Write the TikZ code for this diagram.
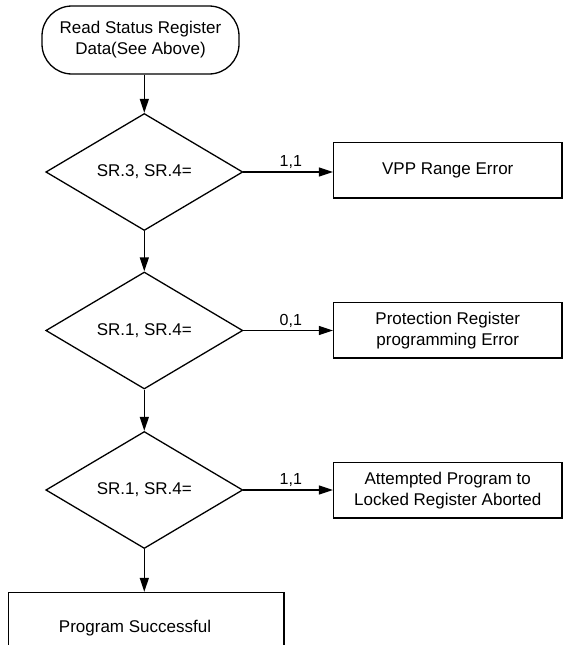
\documentclass[tikz,border=0pt]{standalone}
\usepackage{fontspec}
\setmainfont{Liberation Sans}
\usetikzlibrary{shapes.geometric,arrows.meta}
\begin{document}
\begin{tikzpicture}[x=1pt,y=-1pt,
  every node/.style={font=\fontsize{17}{21}\selectfont},
  ln/.style={line width=1.3pt},
  term/.style={ln,draw,rounded corners=30pt,minimum width=197pt,minimum height=68pt,inner sep=0pt,align=center},
  decision/.style={ln,draw,diamond,aspect=1.684,minimum width=197pt,minimum height=117pt,inner sep=0pt},
  procbox/.style={ln,draw,minimum width=228.5pt,minimum height=55.5pt,inner sep=0pt,align=center},
  flow/.style={ln,-{Triangle[length=14pt,width=9pt]}},
  lbl/.style={font=\fontsize{16}{19}\selectfont,above,inner sep=2.5pt}]
\useasboundingbox (0,0) rectangle (564,645);

\node[term] (t) at (140.5,40) {Read Status Register\\Data(See Above)};
\node[decision] (d1) at (144.3,172) {SR.3, SR.4=};
\node[decision] (d2) at (144.3,330.5) {SR.1, SR.4=};
\node[decision] (d3) at (144.3,490) {SR.1, SR.4=};

\node[procbox] (b1) at (447.75,170.25) {VPP Range Error};
\node[procbox] (b2) at (447.75,330.25) {Protection Register\\programming Error};
\node[procbox] (b3) at (447.75,490.25) {Attempted Program to\\Locked Register Aborted};

\node[ln,draw,minimum width=275.5pt,minimum height=70.5pt,inner sep=0pt] (ok) at (146.25,627.75) {};
\node (oktext) at (135,628) {Program Successful};

\draw[flow] (d1.north |- t.south) -- (d1.north);
\draw[flow] (d1.south) -- (d2.north);
\draw[flow] (d2.south) -- (d3.north);
\draw[flow] (d3.south) -- (d3.south |- ok.north);

\draw[flow] (d1.east) -- node[lbl,pos=0.53] {1,1} (d1.east -| b1.west);
\draw[flow] (d2.east) -- node[lbl,pos=0.53] {0,1} (d2.east -| b2.west);
\draw[flow] (d3.east) -- node[lbl,pos=0.53] {1,1} (d3.east -| b3.west);
\end{tikzpicture}
\end{document}
